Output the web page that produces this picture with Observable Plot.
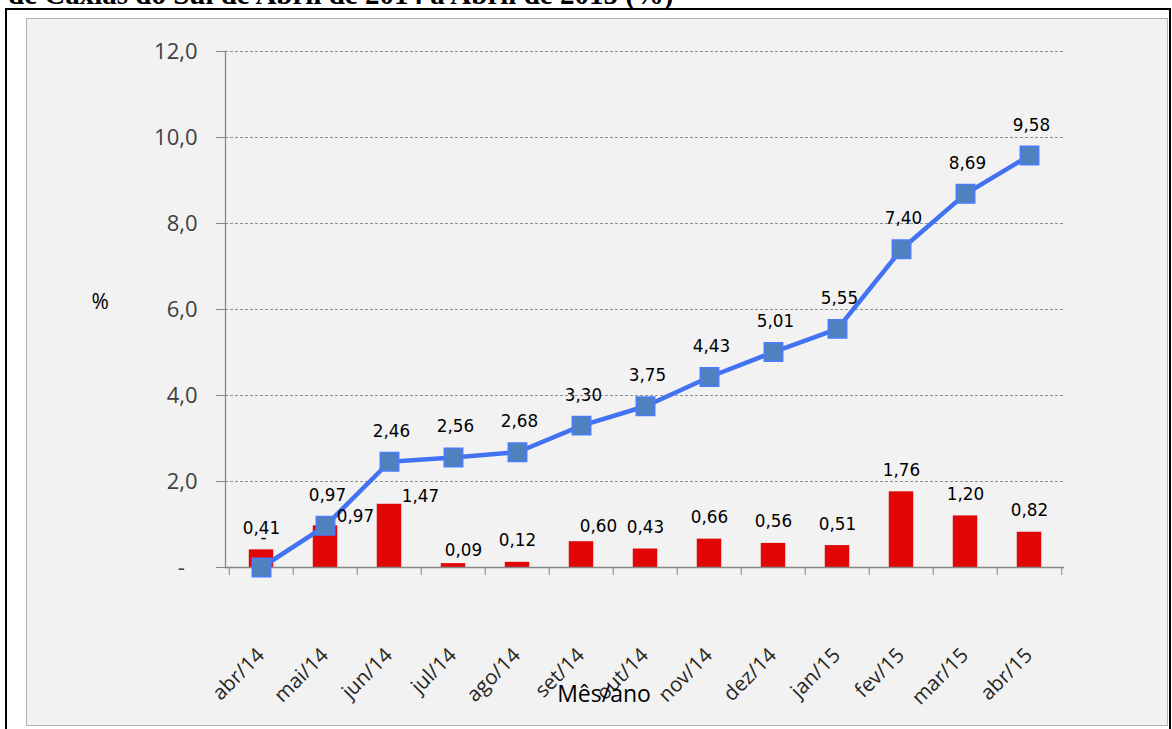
<!DOCTYPE html>
<html>
<head>
<meta charset="utf-8">
<script src="https://cdn.jsdelivr.net/npm/d3@7"></script>
<script src="https://cdn.jsdelivr.net/npm/@observablehq/plot@0.6"></script>
<style>
  html, body { margin: 0; padding: 0; background: #fff; }
  body { width: 1172px; height: 729px; position: relative; overflow: hidden; }
  #title { position: absolute; left: 8px; top: -22px; font: bold 29px "Liberation Serif", "Times New Roman", serif; color: #000; white-space: nowrap; line-height: 32px; }
  #outer { position: absolute; left: 5px; top: 8px; width: 1166px; height: 740px; border: 2px solid #000; box-sizing: border-box; }
  #panel { position: absolute; left: 26px; top: 18px; width: 1142px; height: 708px; background: #f2f2f2; border: 1px solid #b3b3b3; box-sizing: border-box; }
  #chart { position: absolute; left: 0; top: 0; }
</style>
</head>
<body>
<div id="title">de Caxias do Sul de Abril de 2014 a Abril de 2015 (%)</div>
<div id="outer"></div>
<div id="panel"></div>
<div id="chart"></div>
<script>
// Categories (mês/ano)
const months = ["abr/14","mai/14","jun/14","jul/14","ago/14","set/14","out/14","nov/14","dez/14","jan/15","fev/15","mar/15","abr/15"];
// Monthly variation (%) - red bars
const monthly = [0.41, 0.97, 1.47, 0.09, 0.12, 0.60, 0.43, 0.66, 0.56, 0.51, 1.76, 1.20, 0.82];
// Accumulated variation (%) - blue line
const accum = [0, 0.97, 2.46, 2.56, 2.68, 3.30, 3.75, 4.43, 5.01, 5.55, 7.40, 8.69, 9.58];
// Y axis ticks
const yTicks = [0, 2, 4, 6, 8, 10, 12];
const xTitle = "Mês/ano";
const yTitle = "%";

// label nudges for crowded bar labels (style only)
const barLabelNudges = {"mai/14": [30, 12], "jun/14": [31, 14], "jul/14": [10, 8], "set/14": [17, 6]};

const rows = months.map((m, i) => ({month: m, monthly: monthly[i], accum: accum[i]}));

const W = 1172, H = 729;
const mL = 225, mR = 108, mT = 51, mB = 162;
const step = (W - mL - mR) / months.length;
const barW = 25;
const inset = (step - barW) / 2;

const fmt2 = v => v === 0 ? "-" : v.toFixed(2).replace(".", ",");
const fmtY = v => v === 0 ? "-\u2007" : v.toFixed(1).replace(".", ",");

const labelFont = {fontFamily: "DejaVu Sans", fontSize: 16.8, fill: "#000"};

const barLabelMarks = [
  Plot.text(rows.filter(d => !(d.month in barLabelNudges)), {
    x: "month", y: "monthly", text: d => fmt2(d.monthly), lineAnchor: "bottom", dy: -16, ...labelFont
  }),
  ...Object.entries(barLabelNudges).map(([m, [dx, dy]]) =>
    Plot.text(rows.filter(d => d.month === m), {
      x: "month", y: "monthly", text: d => fmt2(d.monthly), lineAnchor: "bottom", dx, dy: -16 + dy, ...labelFont
    }))
];

const chart = Plot.plot({
  width: W, height: H,
  marginLeft: mL, marginRight: mR, marginTop: mT, marginBottom: mB,
  style: {background: "transparent", overflow: "visible"},
  x: {type: "band", domain: months, padding: 0, axis: null},
  y: {domain: [0, 12], axis: null},
  marks: [
    Plot.gridY(yTicks.filter(t => t > 0), {stroke: "#8f8f8f", strokeOpacity: 1, strokeDasharray: "3,2"}),
    Plot.barY(rows, {x: "month", y: "monthly", fill: "#e10707", insetLeft: inset, insetRight: inset}),
    Plot.ruleY([0], {stroke: "#868686", strokeWidth: 1.3}),
    Plot.frame({anchor: "left", stroke: "#868686", strokeWidth: 1.3}),
    Plot.axisY(yTicks, {anchor: "left", tickSize: 9, tickPadding: 19, tickFormat: fmtY, label: null,
      stroke: "#868686", fill: "#404040", fontSize: 22, fontFamily: "Open Sans"}),
    Plot.axisX(months, {anchor: "bottom", tickSize: 8, tickFormat: () => "", label: null, dx: -step / 2, stroke: "#868686"}),
    Plot.axisX([months[months.length - 1]], {anchor: "bottom", tickSize: 8, tickFormat: () => "", label: null, dx: step / 2, stroke: "#868686"}),
    Plot.text(months, {x: d => d, frameAnchor: "bottom", rotate: -45, textAnchor: "end", lineAnchor: "bottom",
      dx: 4, dy: 89, fontSize: 20.5, fontFamily: "Open Sans", fill: "#262626"}),
    Plot.line(rows, {x: "month", y: "accum", stroke: "#4272f2", strokeWidth: 4.5}),
    Plot.dot(rows, {x: "month", y: "accum", symbol: "square", r: 10.4, fill: "#4f81bd", stroke: "#4a7df7", strokeWidth: 1.5}),
    Plot.text(rows, {x: "month", y: "accum", text: d => fmt2(d.accum), lineAnchor: "bottom", dx: 2, dy: -25, ...labelFont}),
    ...barLabelMarks,
    Plot.text([xTitle], {frameAnchor: "bottom", dx: -41, dy: 134, lineAnchor: "bottom", fontSize: 23, fontFamily: "Open Sans", fill: "#000"}),
    Plot.text([yTitle], {frameAnchor: "left", dx: -134, dy: -7, fontSize: 21, fontFamily: "Open Sans", fill: "#000"})
  ]
});
document.getElementById("chart").appendChild(chart);
</script>
</body>
</html>
